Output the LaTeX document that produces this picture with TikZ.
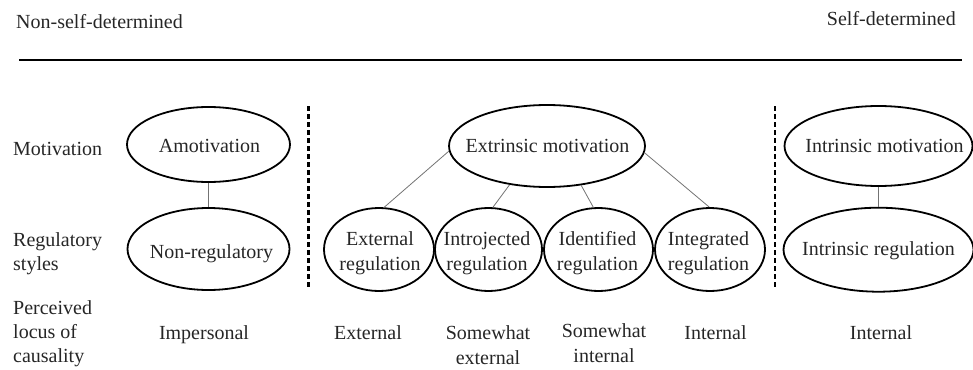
\documentclass[tikz,border=0pt]{standalone}
\usepackage{fontspec}
\setmainfont{Liberation Serif}
\usetikzlibrary{shapes.geometric}
\begin{document}
\begin{tikzpicture}[x=1pt,y=-1pt,
  ell/.style={draw=black,line width=1.8pt,ellipse,inner sep=0pt},
  txt/.style={font=\fontsize{20}{24.5}\selectfont,inner sep=0pt,anchor=base,align=center,text=black!85},
  side/.style={font=\fontsize{20}{24}\selectfont,inner sep=0pt,anchor=base west,align=left,text=black!85},
  link/.style={draw=black!55,line width=0.8pt},
  divider/.style={line width=2.2pt,dash pattern=on 5pt off 3pt}]
\useasboundingbox (0,0) rectangle (973,369);
% header
\node[side] (nsd) at (16,29) {Non-self-determined};
\node[txt,anchor=base east] (sd) at (956,26) {Self-determined};
\coordinate (hl) at (19,59.5);
\coordinate (hr) at (962,59.5);
\draw[line width=2pt] (hl) -- (hr);
% dividers
\coordinate (d1a) at (308.5,106);
\coordinate (d1b) at (308.5,288);
\coordinate (d2a) at (775,106);
\coordinate (d2b) at (775,288);
\draw[divider] (d1a) -- (d1b);
\draw[divider] (d2a) -- (d2b);
% row labels (base anchor = last line)
\node[side] (lmot) at (13,155) {Motivation};
\node[side] (lreg) at (13,270) {Regulatory\\styles};
\node[side] (lloc) at (13,362) {Perceived\\locus of\\causality};
% ellipses
\node[ell,minimum width=163pt,minimum height=75pt] (amot) at (208.5,144.5) {};
\node[ell,minimum width=162pt,minimum height=82pt] (nonreg) at (208.5,249) {};
\node[ell,minimum width=196pt,minimum height=82pt] (extr) at (547,146) {};
\node[ell,minimum width=110pt,minimum height=83pt] (extreg) at (379,249.5) {};
\node[ell,minimum width=107pt,minimum height=83pt] (introj) at (488.5,249.5) {};
\node[ell,minimum width=109pt,minimum height=83pt] (ident) at (598.5,249.5) {};
\node[ell,minimum width=110pt,minimum height=83pt] (integ) at (710,249.5) {};
\node[ell,minimum width=188pt,minimum height=80pt] (intrm) at (878.5,146) {};
\node[ell,minimum width=190pt,minimum height=84pt] (intrr) at (878.5,249.7) {};
% ellipse texts
\node[txt] (tamot) at (209.5,152.5) {Amotivation};
\node[txt] (tnonreg) at (211.5,258) {Non-regulatory};
\node[txt] (textr) at (547.5,152.5) {Extrinsic motivation};
\node[txt] (textreg) at (380,270) {External\\regulation};
\node[txt] (tintroj) at (487,270) {Introjected\\regulation};
\node[txt] (tident) at (597.5,270) {Identified\\regulation};
\node[txt] (tinteg) at (708.5,270) {Integrated\\regulation};
\node[txt] (tintrm) at (884.5,152) {Intrinsic motivation};
\node[txt] (tintrr) at (878.5,255) {Intrinsic regulation};
% connectors
\draw[link] (amot) -- (nonreg);
\draw[link] (intrm) -- (intrr);
\draw[link] (extr.183) -- (extreg.83);
\draw[link] (extr.226) -- (introj.84);
\draw[link] (extr.311) -- (ident.97);
\draw[link] (extr.356) -- (integ.91);
% locus labels
\node[txt] (limp) at (204,339) {Impersonal};
\node[txt] (lext) at (368,339) {External};
\node[txt] (lswe) at (488,364) {Somewhat\\external};
\node[txt] (lswi) at (604,362) {Somewhat\\internal};
\node[txt] (lint) at (715.5,339) {Internal};
\node[txt] (lint2) at (881,339) {Internal};
\end{tikzpicture}
\end{document}
